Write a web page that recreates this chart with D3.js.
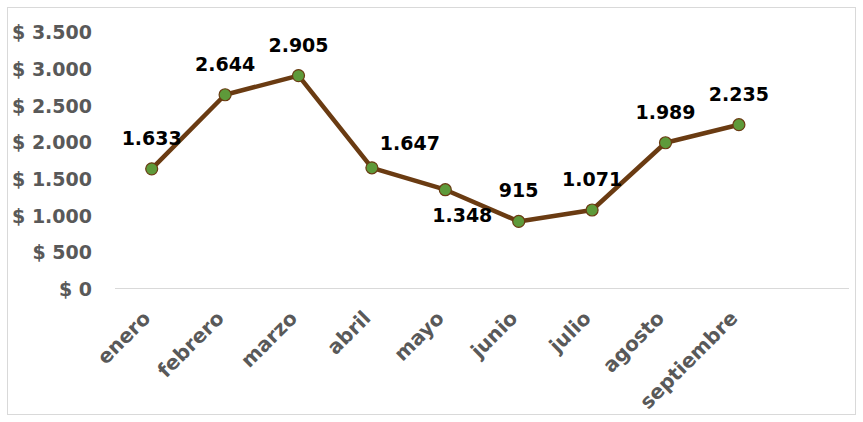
<!DOCTYPE html>
<html><head><meta charset="utf-8">
<script src="https://cdn.jsdelivr.net/npm/d3@7"></script>
<style>body{margin:0;background:#fff;} text{font-family:"DejaVu Sans",sans-serif;font-weight:bold;}</style>
</head><body>
<svg id="c" width="863" height="422"></svg>
<script>
const months = ["enero","febrero","marzo","abril","mayo","junio","julio","agosto","septiembre"];
const values = [1633,2644,2905,1647,1348,915,1071,1989,2235];
const yTicks = [0,500,1000,1500,2000,2500,3000,3500];
// label placement tweaks (pixels), separate from data
const labelShift = {abril:[38,6], mayo:[17,56]};

const svg = d3.select("#c");
svg.append("rect").attr("x",7.5).attr("y",7.5).attr("width",848).attr("height",407)
  .attr("fill","#fff").attr("stroke","#d9d9d9");

const step = 73.4, x0 = 115;
const x = d3.scaleBand().domain(months).range([x0, x0+step*months.length]);
const y = d3.scaleLinear().domain([0,3500]).range([288.5,32]);
const fmt = v => d3.format(",")(v).replace(/,/g,".");

svg.append("line").attr("x1",x0).attr("x2",849).attr("y1",y(0)).attr("y2",y(0))
  .attr("stroke","#d9d9d9").attr("stroke-width",1.2);

const yAxis = svg.append("g").attr("transform","translate(92,0)")
  .call(d3.axisLeft(y).tickValues(yTicks).tickSize(0).tickPadding(0).tickFormat(d=>"$ "+fmt(d)));
yAxis.select(".domain").remove();
yAxis.selectAll("text").attr("fill","#595959").style("font-size","19px").attr("dy","0.36em");

const xAxis = svg.append("g").attr("transform",`translate(0,${y(0)})`)
  .call(d3.axisBottom(x).tickSize(0).tickPadding(0));
xAxis.select(".domain").remove();
xAxis.selectAll("text").attr("fill","#595959").style("font-size","20px")
  .attr("text-anchor","end").attr("dy","0")
  .attr("transform","translate(0,31) rotate(-45)");

const cx = d => x(d)+x.bandwidth()/2;
const line = d3.line().x((d,i)=>cx(months[i])).y(d=>y(d));
svg.append("path").datum(values).attr("d",line).attr("fill","none")
  .attr("stroke","#6a3b12").attr("stroke-width",4.5).attr("stroke-linejoin","round");
svg.selectAll("circle.m").data(values).join("circle")
  .attr("cx",(d,i)=>cx(months[i])).attr("cy",d=>y(d)).attr("r",6)
  .attr("fill","#5e9a3a").attr("stroke","#6a3b12").attr("stroke-width",1.2);
svg.selectAll("text.lbl").data(values).join("text").attr("class","lbl")
  .attr("x",(d,i)=>cx(months[i])+((labelShift[months[i]]||[0,0])[0]))
  .attr("y",(d,i)=>y(d)-24+((labelShift[months[i]]||[0,0])[1]))
  .attr("text-anchor","middle").attr("fill","#000").style("font-size","19px")
  .text(d=>fmt(d));
</script>
</body></html>
